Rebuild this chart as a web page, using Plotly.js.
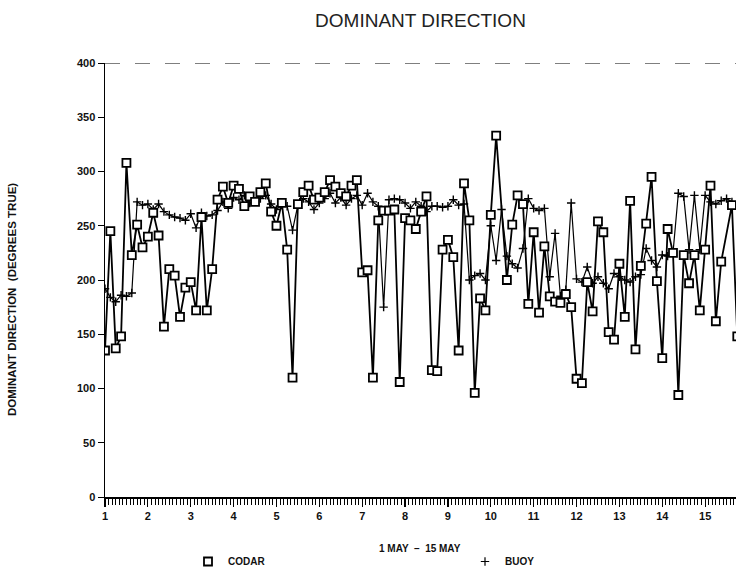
<!DOCTYPE html>
<html>
<head>
<meta charset="utf-8">
<script src="https://cdn.plot.ly/plotly-3.0.1.min.js"></script>
<style>
  html, body { margin: 0; padding: 0; background: #ffffff; }
  #chart { width: 736px; height: 576px; }
</style>
</head>
<body>
<div id="chart"></div>
<script>
// Sampling: one reading every 3 hours starting 1 May 00:00 (day number on the x axis)
var startDay = 1;
var stepDays = 0.125;

// CODAR dominant direction (degrees true), 3-hourly
var codarValues = [
  135,245,137,148,308,223,251,230,240,262,
  241,157,210,204,166,193,198,172,258,172,
  210,274,286,271,287,284,268,277,272,281,
  289,263,250,271,228,110,270,281,287,274,
  276,281,292,286,280,277,287,292,207,209,
  110,255,264,264,265,106,257,255,247,263,
  277,117,116,228,237,221,135,289,255,96,
  183,172,260,333,null,200,251,278,270,178,
  244,170,231,185,180,179,187,175,109,105,
  198,171,254,244,152,145,215,166,273,136,
  213,252,295,199,128,247,225,94,223,197,
  223,172,228,287,162,217,null,269,148
];

// BUOY dominant direction (degrees true), 3-hourly
var buoyValues = [
  192,184,180,186,185,188,272,269,270,265,
  270,263,260,258,257,255,261,248,262,259,
  260,264,272,266,276,274,278,271,272,275,
  278,270,265,269,268,246,269,275,272,265,
  271,275,280,271,276,269,275,278,269,280,
  272,268,175,274,275,274,271,266,272,268,
  263,268,268,267,268,274,269,270,200,204,
  206,200,250,218,265,222,215,211,229,275,
  266,264,266,203,243,185,191,271,201,198,
  212,197,203,197,192,206,203,200,198,203,
  205,229,218,212,223,222,225,280,277,228,
  278,228,278,272,270,273,275,272,272
];

var dayTicks = [1,2,3,4,5,6,7,8,9,10,11,12,13,14,15];
var dayTickLabels = ['1','2','3','4','5','6','7','8','9','10','11','12','13','14','15'];
var yTicks = [0,50,100,150,200,250,300,350,400];

function timeAxis(n) {
  var t = [];
  for (var i = 0; i < n; i++) t.push(startDay + i * stepDays);
  return t;
}

var fontFam = 'Liberation Sans, Arial, Helvetica, sans-serif';

var buoyTrace = {
  x: timeAxis(buoyValues.length), y: buoyValues,
  type: 'scatter', mode: 'lines+markers', name: 'BUOY', showlegend: false,
  line: { color: '#000', width: 1.2 },
  marker: { symbol: 'cross-thin-open', size: 6, color: '#000', line: { color: '#000', width: 1.4 } },
  cliponaxis: true
};
var codarTrace = {
  x: timeAxis(codarValues.length), y: codarValues,
  type: 'scatter', mode: 'lines+markers', name: 'CODAR', showlegend: false,
  connectgaps: true,
  line: { color: '#000', width: 1.8 },
  marker: { symbol: 'square', size: 8, color: '#fff', line: { color: '#000', width: 1.8 } },
  cliponaxis: true
};
var codarLegend = {
  x: [null], y: [null], type: 'scatter', mode: 'markers', name: 'CODAR', legend: 'legend',
  marker: { symbol: 'square', size: 8, color: '#fff', line: { color: '#000', width: 1.8 } }
};
var buoyLegend = {
  x: [null], y: [null], type: 'scatter', mode: 'markers', name: 'BUOY', legend: 'legend2',
  marker: { symbol: 'cross-thin-open', size: 6, color: '#000', line: { color: '#000', width: 1.2 } }
};

var legendFont = { family: fontFam, size: 10, color: '#111', weight: 'bold' };

var layout = {
  width: 736, height: 576,
  margin: { l: 105, r: 0, t: 63, b: 79 },
  paper_bgcolor: '#fff', plot_bgcolor: '#fff',
  font: { family: fontFam, color: '#111' },
  title: {
    text: 'DOMINANT DIRECTION',
    font: { family: fontFam, size: 19, color: '#222' },
    xref: 'paper', x: 0.5, xanchor: 'center',
    yref: 'container', y: 0.965, yanchor: 'middle'
  },
  xaxis: {
    range: [1, 15.72], automargin: false,
    tickmode: 'array', tickvals: dayTicks, ticktext: dayTickLabels,
    ticks: 'outside', ticklen: 8, tickwidth: 1.2, tickcolor: '#000',
    minor: { dtick: 1/12, tick0: 1, ticks: 'outside', ticklen: 6, tickwidth: 1, tickcolor: '#000', showgrid: false },
    showline: true, linecolor: '#000', linewidth: 1.5,
    showgrid: false, zeroline: false,
    tickfont: { family: fontFam, size: 11, color: '#111', weight: 'bold' }
  },
  yaxis: {
    range: [0, 400], automargin: false,
    tickmode: 'array', tickvals: yTicks,
    ticks: 'outside', ticklen: 6, tickwidth: 1, tickcolor: '#000',
    showline: true, linecolor: '#000', linewidth: 1.5,
    showgrid: false, zeroline: false,
    tickfont: { family: fontFam, size: 11, color: '#111', weight: 'bold' }
  },
  shapes: [
    { type: 'line', xref: 'paper', yref: 'y', x0: 0, x1: 1, y0: 400, y1: 400,
      line: { color: '#000', width: 1, dash: 'longdash' } }
  ],
  annotations: [
    { text: 'DOMINANT DIRECTION  (DEGREES TRUE)', textangle: -90,
      xref: 'paper', yref: 'paper', x: (12 - 105) / 631, y: (497 - 300) / 434,
      xanchor: 'center', yanchor: 'middle', showarrow: false,
      font: { family: fontFam, size: 11.5, color: '#111', weight: 'bold' } },
    { text: '1 MAY  \u2013  15 MAY',
      xref: 'paper', yref: 'paper', x: (420 - 105) / 631, y: (497 - 548) / 434,
      xanchor: 'center', yanchor: 'middle', showarrow: false,
      font: { family: fontFam, size: 10, color: '#111', weight: 'bold' } }
  ],
  legend: {
    orientation: 'h', x: (188 - 105) / 631, xanchor: 'left',
    y: (497 - 562) / 434, yanchor: 'middle',
    font: legendFont, bgcolor: 'rgba(0,0,0,0)'
  },
  legend2: {
    orientation: 'h', x: (465 - 105) / 631, xanchor: 'left',
    y: (497 - 562) / 434, yanchor: 'middle',
    font: legendFont, bgcolor: 'rgba(0,0,0,0)'
  },
  showlegend: true
};

Plotly.newPlot('chart', [buoyTrace, codarTrace, codarLegend, buoyLegend], layout, { displayModeBar: false, staticPlot: true });
</script>
</body>
</html>
